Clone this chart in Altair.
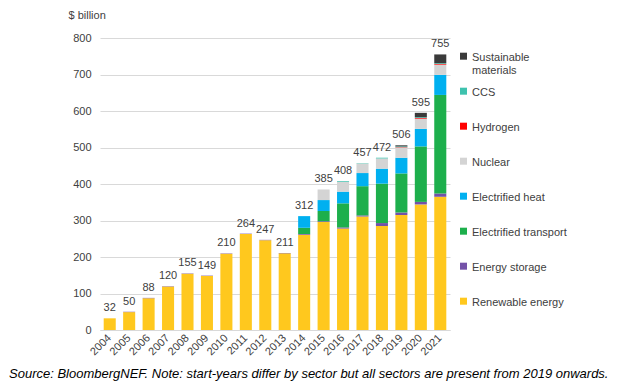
import altair as alt
import pandas as pd

years = [str(y) for y in range(2004, 2022)]
renewable = [32, 49, 87, 119, 154, 148, 209, 263, 246, 210, 261, 296, 278, 311, 285, 315, 344, 365]
storage = [0, 1, 1, 1, 1, 1, 1, 1, 1, 1, 2, 2, 3, 3, 8, 7, 7, 9]
transport = [0, 0, 0, 0, 0, 0, 0, 0, 0, 0, 17, 28, 66, 80, 108, 107, 152, 270]
heat = [0, 0, 0, 0, 0, 0, 0, 0, 0, 0, 32, 30, 32, 36, 41, 43, 48, 55]
nuclear = [0, 0, 0, 0, 0, 0, 0, 0, 0, 0, 0, 29, 27, 26, 28, 28, 28, 28]
hydrogen = [0, 0, 0, 0, 0, 0, 0, 0, 0, 0, 0, 0, 0, 0, 0, 1, 2, 2]
ccs = [0, 0, 0, 0, 0, 0, 0, 0, 0, 0, 0, 0, 2, 1, 2, 2, 2, 2]
materials = [0, 0, 0, 0, 0, 0, 0, 0, 0, 0, 0, 0, 0, 0, 0, 3, 12, 24]
totals = [32, 50, 88, 120, 155, 149, 210, 264, 247, 211, 312, 385, 408, 457, 472, 506, 595, 755]
y_ticks = [0, 100, 200, 300, 400, 500, 600, 700, 800]

sectors = ["Renewable energy", "Energy storage", "Electrified transport", "Electrified heat",
           "Nuclear", "Hydrogen", "CCS", "Sustainable materials"]
colors = ["#FFC81E", "#7452A8", "#1DAF4C", "#00B0F0", "#D4D4D4", "#FF0000", "#3EC2AE", "#3A3A3A"]
series = [renewable, storage, transport, heat, nuclear, hydrogen, ccs, materials]

rows = []
for i, (name, vals) in enumerate(zip(sectors, series)):
    for y, v in zip(years, vals):
        rows.append({"year": y, "sector": name, "value": v, "order": i})
df = pd.DataFrame(rows)
tot_df = pd.DataFrame({"year": years, "total": totals})

font = "Liberation Sans"
txt = "#404040"

legend_domain = sectors[::-1]
legend_range = colors[::-1]

xaxis = alt.Axis(labelAngle=-45, labelAlign="right", labelBaseline="middle",
                 labelFont=font, labelFontSize=11, labelColor=txt, ticks=False,
                 labelPadding=6, domainColor="#D9D9D9", labelOverlap=False)
yaxis = alt.Axis(values=y_ticks, grid=True, gridColor="#D9D9D9", labelOverlap=False,
                 domain=False, ticks=False, labelPadding=9, labelFont=font,
                 labelFontSize=11, labelColor=txt, titleAngle=0, titleAlign="left",
                 titleBaseline="middle", titleX=-32, titleY=-23, titleFont=font,
                 titleFontSize=11, titleFontWeight="normal", titleColor=txt)
yscale = alt.Scale(domain=[0, 800], nice=False)

bars = alt.Chart(df).mark_bar().encode(
    x=alt.X("year:N", title=None, scale=alt.Scale(paddingInner=0.38), axis=xaxis),
    y=alt.Y("value:Q", stack="zero", title="$ billion", scale=yscale, axis=yaxis),
    color=alt.Color("sector:N", scale=alt.Scale(domain=legend_domain, range=legend_range),
                    legend=alt.Legend(orient="none", legendX=358, legendY=8, title=None,
                                      symbolType="M-1,0.34H1V2.34H-1Z", symbolSize=49,
                                      symbolStrokeWidth=0, labelFont=font, labelFontSize=11,
                                      labelColor=txt, labelOffset=3, labelBaseline="top",
                                      rowPadding=5, padding=0, labelLimit=200,
                                      labelExpr="datum.label == 'Sustainable materials' ? ['Sustainable', 'materials'] : [datum.label, '']")),
    order=alt.Order("order:Q", sort="ascending"),
)

labels = alt.Chart(tot_df).mark_text(baseline="bottom", dy=-5, font=font, fontSize=11, color=txt).encode(
    x=alt.X("year:N", title=None, axis=xaxis),
    y=alt.Y("total:Q", title="$ billion", scale=yscale, axis=yaxis),
    text=alt.Text("total:Q"),
)

chart = alt.layer(bars, labels).properties(
    width=350, height=292,
    autosize=alt.AutoSizeParams(type="none"),
    padding={"left": 92, "top": 30, "right": 178, "bottom": 52},
    title=alt.TitleParams(
        "Source: BloombergNEF. Note: start-years differ by sector but all sectors are present from 2019 onwards.",
        orient="bottom", anchor="start", frame="group", dx=-91, offset=11,
        font=font, fontSize=13, fontStyle="italic", fontWeight="normal", color="#000000"),
).configure_view(stroke=None)

chart.save("out.html", embed_options={"renderer": "svg", "actions": False})
